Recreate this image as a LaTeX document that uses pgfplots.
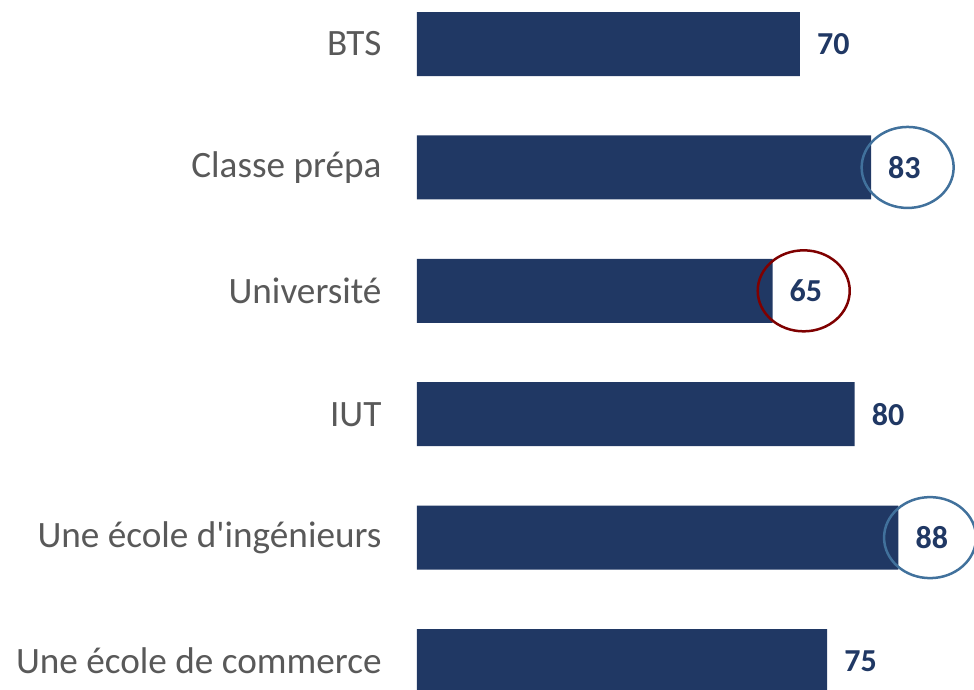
\documentclass[border=0pt]{standalone}
\usepackage{pgfplots}
\pgfplotsset{compat=1.18}
\usepackage{fontspec}
\setmainfont{Carlito}[Ligatures=TeXOff]
\definecolor{navy}{HTML}{203864}
\definecolor{labgray}{HTML}{595959}
\definecolor{cblue}{HTML}{41719C}
\definecolor{cred}{HTML}{7F0000}
\begin{document}
\begin{tikzpicture}
\begin{axis}[
  name=ax,
  scale only axis,
  width=557pt, height=690pt,
  xbar, bar width=64pt,
  xmin=0, xmax=101.83,
  ymin=-0.357, ymax=5.235,
  y dir=reverse,
  axis line style={draw=none},
  hide x axis,
  ytick={0,1,2,3,4,5},
  yticklabels={BTS,Classe prépa,Université,IUT,Une école d'ingénieurs,Une école de commerce},
  yticklabel style={font=\fontsize{37.2}{42}\selectfont, text=labgray, xshift=-32pt},
  major tick length=0pt,
  /pgf/number format/assume math mode=true,
  nodes near coords,
  nodes near coords style={font=\fontsize{32}{36}\selectfont\bfseries, text=navy, anchor=west, inner sep=0pt, xshift=17pt},
  clip=false,
]
\addplot[fill=navy, draw=none] coordinates {(70,0) (83,1) (65,2) (80,3) (88,4) (75,5)};
\draw[cblue, line width=2.5pt] (axis cs:89.7,1) ellipse [x radius=46pt, y radius=40.5pt];
\draw[cred, line width=2.5pt] (axis cs:70.7,2) ellipse [x radius=46pt, y radius=40.5pt];
\draw[cblue, line width=2.5pt] (axis cs:93.8,4) ellipse [x radius=46pt, y radius=40.5pt];
\end{axis}
\pgfresetboundingbox
\path[use as bounding box] ([xshift=-417pt]ax.south west) rectangle (ax.north east);
\end{tikzpicture}
\end{document}
